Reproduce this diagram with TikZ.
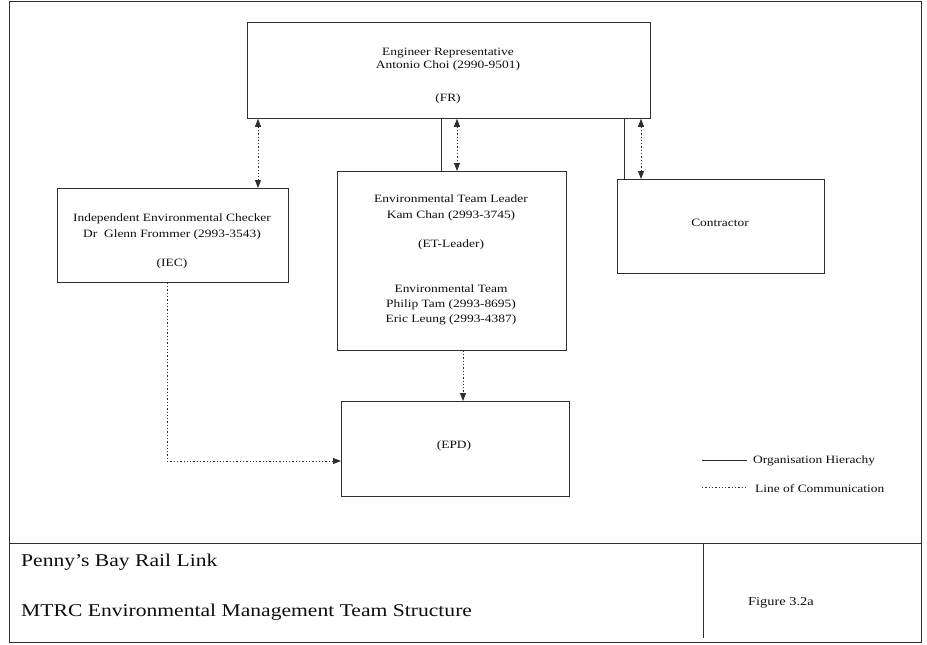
\documentclass[tikz,border=0pt]{standalone}
\usepackage{fontspec}
\setmainfont{Liberation Serif}[FakeStretch=1.2]
\usetikzlibrary{arrows.meta}
\definecolor{linec}{gray}{0.18}
\definecolor{txtc}{gray}{0.05}
\begin{document}
\begin{tikzpicture}[x=1pt,y=-1pt,
  box/.style={draw=linec, line width=0.8pt, rectangle, inner sep=0pt, anchor=north west},
  txt/.style={anchor=base, inner sep=0pt, text=txtc, font=\fontsize{11.2}{14}\selectfont},
  ttl/.style={anchor=base west, inner sep=0pt, text=txtc, font=\fontsize{18}{22}\selectfont},
  org/.style={draw=linec, line width=0.8pt},
  comm/.style={draw=linec, line width=0.8pt, dash pattern=on 1.3pt off 2pt},
  >={Triangle[length=8pt,width=6pt]},
  frame/.style={draw=linec, line width=0.8pt}]
\useasboundingbox (0,0) rectangle (927,645);
% outer frame and title block
\draw[frame] (9,1) rectangle (921,642);
\draw[frame] (9,543) -- (921,543);
\draw[frame] (703,543) -- (703,638);
% boxes
\node[box, minimum width=403pt, minimum height=96pt] (er) at (247,22) {};
\node[box, minimum width=231pt, minimum height=94pt] (iec) at (57,188) {};
\node[box, minimum width=229pt, minimum height=179pt] (et) at (337,171) {};
\node[box, minimum width=207pt, minimum height=94pt] (con) at (617,179) {};
\node[box, minimum width=228pt, minimum height=95pt] (epd) at (341,401) {};
% box texts
\node[txt] (er1) at (448,55) {Engineer Representative};
\node[txt] (er2) at (448,68) {Antonio Choi (2990-9501)};
\node[txt] (er3) at (448,101) {(FR)};
\node[txt] (iec1) at (172,221) {Independent Environmental Checker};
\node[txt] (iec2) at (172,237) {Dr~ Glenn Frommer (2993-3543)};
\node[txt] (iec3) at (172,266) {(IEC)};
\node[txt] (et1) at (451,202) {Environmental Team Leader};
\node[txt] (et2) at (451,218) {Kam Chan (2993-3745)};
\node[txt] (et3) at (451,247) {(ET-Leader)};
\node[txt] (et4) at (451,292) {Environmental Team};
\node[txt] (et5) at (451,307) {Philip Tam (2993-8695)};
\node[txt] (et6) at (451,322) {Eric Leung (2993-4387)};
\node[txt] (con1) at (720,226) {Contractor};
\node[txt] (epd1) at (454,448) {(EPD)};
% connector x positions
\coordinate (c1) at (258,0);
\coordinate (c2) at (441,0);
\coordinate (c3) at (457,0);
\coordinate (c4) at (624,0);
\coordinate (c5) at (641,0);
\coordinate (c6) at (463,0);
\coordinate (c7) at (167,0);
\coordinate (c8) at (0,461);
% connectors
\draw[comm,<->] (er.south -| c1) -- (iec.north -| c1);
\draw[org] (er.south -| c2) -- (et.north -| c2);
\draw[comm,<->] (er.south -| c3) -- (et.north -| c3);
\draw[org] (er.south -| c4) -- (con.north -| c4);
\draw[comm,<->] (er.south -| c5) -- (con.north -| c5);
\draw[comm,->] (et.south -| c6) -- (epd.north -| c6);
\draw[comm,->] (iec.south -| c7) |- (epd.west |- c8);
% legend
\coordinate (l1a) at (702,460);
\coordinate (l1b) at (747,460);
\coordinate (l2a) at (702,487);
\coordinate (l2b) at (746,487);
\draw[org] (l1a) -- (l1b);
\draw[comm] (l2a) -- (l2b);
\node[txt, anchor=base west] (leg1) at (753,463) {Organisation Hierachy};
\node[txt, anchor=base west] (leg2) at (755,492) {Line of Communication};
% title block texts
\node[ttl] (t1) at (21,566) {Penny’s Bay Rail Link};
\node[ttl] (t2) at (21,616) {MTRC Environmental Management Team Structure};
\node[txt, anchor=base west, font=\fontsize{12}{14}\selectfont] (fig) at (748,605) {Figure 3.2a};
\end{tikzpicture}
\end{document}
